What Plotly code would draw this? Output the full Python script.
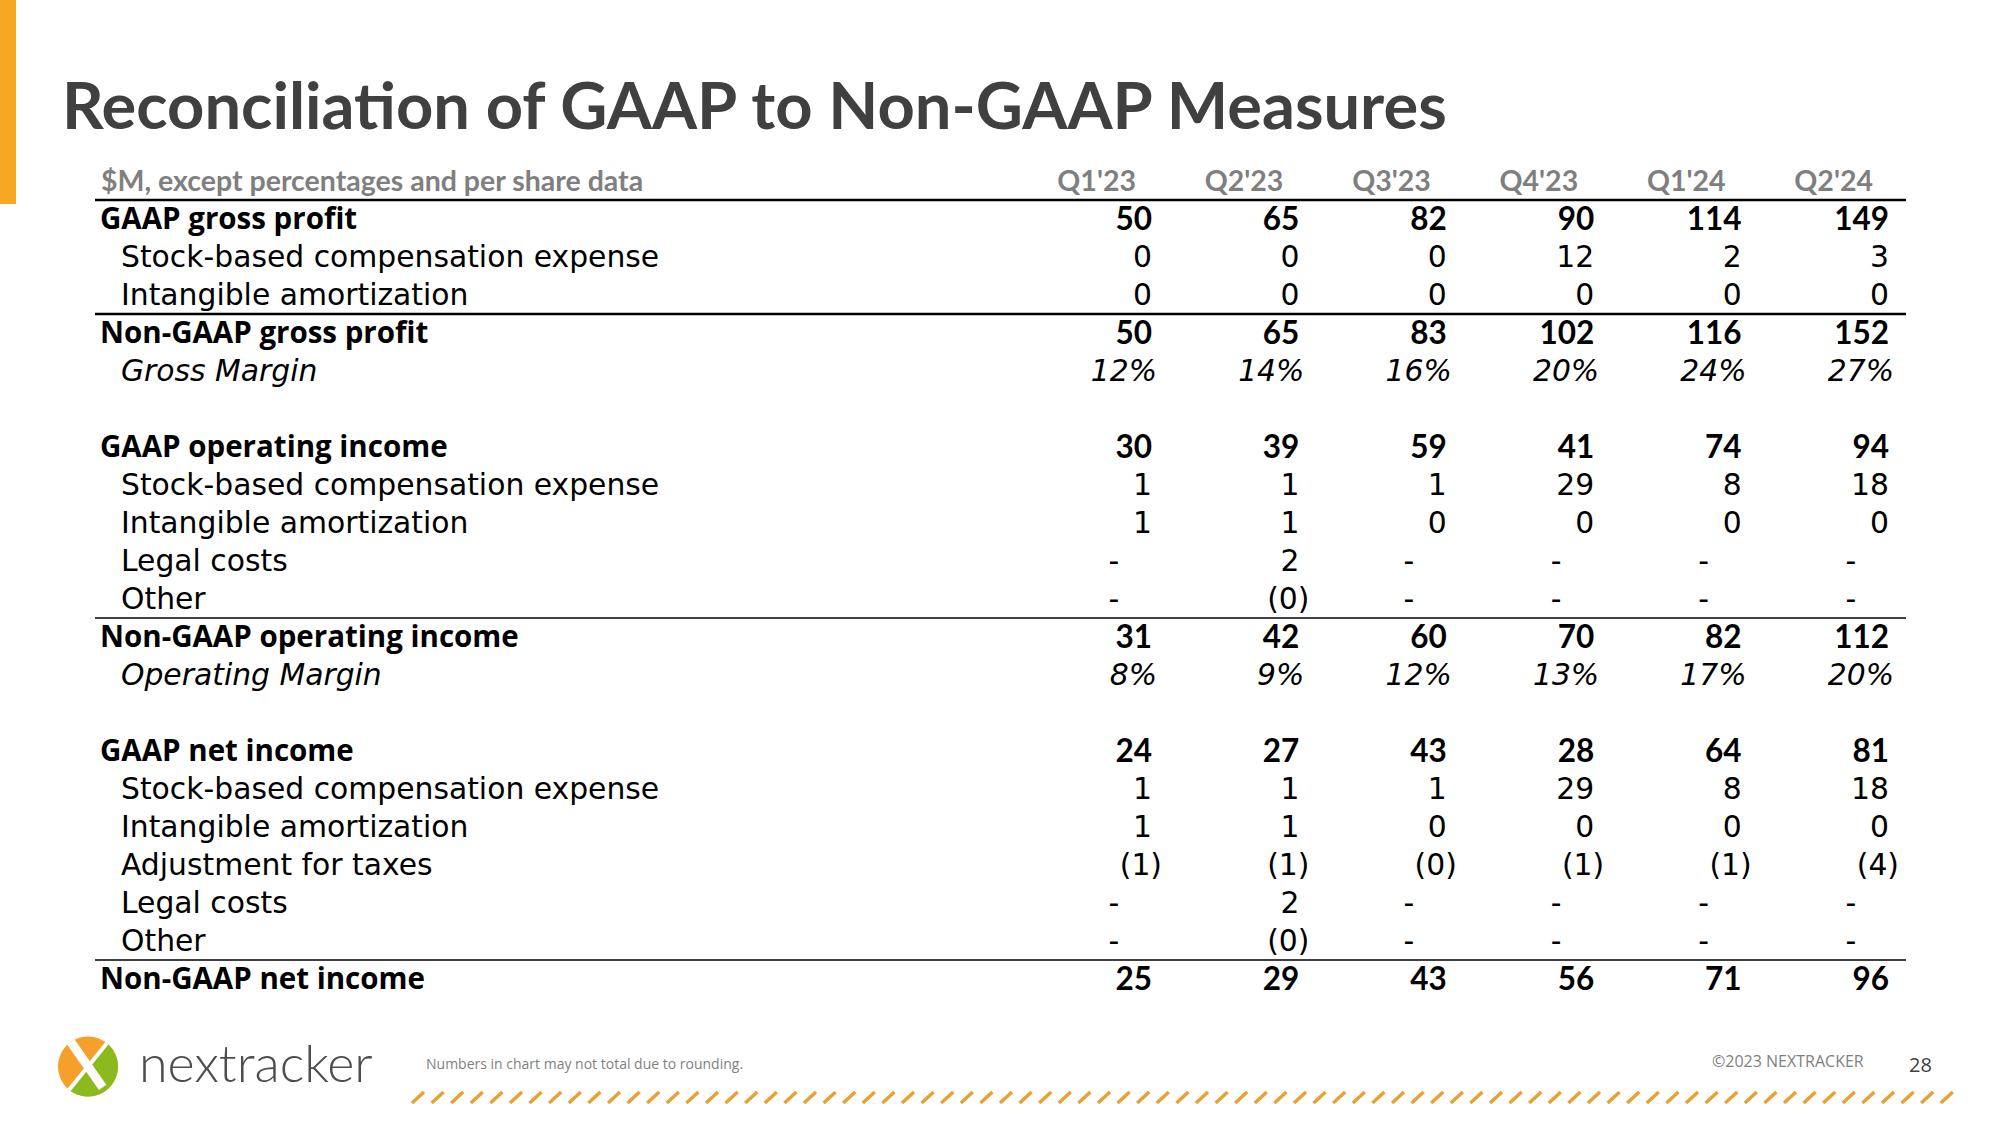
import math
import numpy as np
import plotly.graph_objects as go

# ---------------- data ----------------
quarters = ["Q1'23", "Q2'23", "Q3'23", "Q4'23", "Q1'24", "Q2'24"]
header_label = "$M, except percentages and per share data"

gaap_gross_profit = [50, 65, 82, 90, 114, 149]
gp_stock_comp = [0, 0, 0, 12, 2, 3]
gp_intangible = [0, 0, 0, 0, 0, 0]
nongaap_gross_profit = [50, 65, 83, 102, 116, 152]
gross_margin_pct = [12, 14, 16, 20, 24, 27]

gaap_operating_income = [30, 39, 59, 41, 74, 94]
oi_stock_comp = [1, 1, 1, 29, 8, 18]
oi_intangible = [1, 1, 0, 0, 0, 0]
oi_legal = [None, 2, None, None, None, None]
oi_other = [None, -0.0, None, None, None, None]
nongaap_operating_income = [31, 42, 60, 70, 82, 112]
operating_margin_pct = [8, 9, 12, 13, 17, 20]

gaap_net_income = [24, 27, 43, 28, 64, 81]
ni_stock_comp = [1, 1, 1, 29, 8, 18]
ni_intangible = [1, 1, 0, 0, 0, 0]
ni_tax_adj = [-1, -1, -0.0, -1, -1, -4]
ni_legal = [None, 2, None, None, None, None]
ni_other = [None, -0.0, None, None, None, None]
nongaap_net_income = [25, 29, 43, 56, 71, 96]

# (row slot, label, values, style, kind)
rows = [
    (1, "GAAP gross profit", gaap_gross_profit, "bold", "num"),
    (2, "Stock-based compensation expense", gp_stock_comp, "regular", "num"),
    (3, "Intangible amortization", gp_intangible, "regular", "num"),
    (4, "Non-GAAP gross profit", nongaap_gross_profit, "bold", "num"),
    (5, "Gross Margin", gross_margin_pct, "italic", "pct"),
    (7, "GAAP operating income", gaap_operating_income, "bold", "num"),
    (8, "Stock-based compensation expense", oi_stock_comp, "regular", "num"),
    (9, "Intangible amortization", oi_intangible, "regular", "num"),
    (10, "Legal costs", oi_legal, "regular", "num"),
    (11, "Other", oi_other, "regular", "num"),
    (12, "Non-GAAP operating income", nongaap_operating_income, "bold", "num"),
    (13, "Operating Margin", operating_margin_pct, "italic", "pct"),
    (15, "GAAP net income", gaap_net_income, "bold", "num"),
    (16, "Stock-based compensation expense", ni_stock_comp, "regular", "num"),
    (17, "Intangible amortization", ni_intangible, "regular", "num"),
    (18, "Adjustment for taxes", ni_tax_adj, "regular", "num"),
    (19, "Legal costs", ni_legal, "regular", "num"),
    (20, "Other", ni_other, "regular", "num"),
    (21, "Non-GAAP net income", nongaap_net_income, "bold", "num"),
]
rule_rows = [(0.5, 2.5), (3.5, 2.5), (11.5, 1.5), (20.5, 1.5)]

# ---------------- layout geometry ----------------
W, H = 2000, 1125
COL_RIGHT0, COL_PITCH = 1152.0, 147.4
ROW0, ROW_PITCH = 181.0, 38.0
TEXT_SHIFT = 3.0 / ROW_PITCH
x_lo = -COL_RIGHT0 / COL_PITCH
x_hi = x_lo + W / COL_PITCH
y_lo = -ROW0 / ROW_PITCH
y_hi = y_lo + H / ROW_PITCH


def dx(px):
    return px / COL_PITCH


def xpx(px):
    return (px - COL_RIGHT0) / COL_PITCH


FONT_BOLD = dict(family="Lato", size=31.5, color="#000000", weight=700)
FONT_BOLD_LABEL = dict(family="Open Sans", size=29.5, color="#000000", weight=700)
FONT_REG = dict(family="DejaVu Sans", size=29.8, color="#000000")
FONT_ITAL = dict(family="DejaVu Sans", size=29.8, color="#000000", style="italic")
FONT_HEAD = dict(family="Lato", size=28.5, color="#7F7F7F", weight=700)
style_font = {"bold": FONT_BOLD, "regular": FONT_REG, "italic": FONT_ITAL}
label_font = {"bold": FONT_BOLD_LABEL, "regular": FONT_REG, "italic": FONT_ITAL}

fig = go.Figure()


def add_text(xs, ys, texts, font, pos):
    if not xs:
        return
    fig.add_trace(go.Scatter(x=xs, y=[v + TEXT_SHIFT for v in ys], text=texts, mode="text",
                             textposition=pos, textfont=font,
                             hoverinfo="skip", showlegend=False,
                             cliponaxis=False))


# header row
add_text([xpx(101)], [0], [header_label], FONT_HEAD, "middle right")
add_text([i - dx(16) for i in range(len(quarters))], [0] * len(quarters),
         quarters, FONT_HEAD, "middle left")

# row labels
for style in ("bold", "regular", "italic"):
    xs, ys, ts = [], [], []
    for slot, label, vals, st, kind in rows:
        if st != style:
            continue
        xs.append(xpx(100 if st == "bold" else 121))
        ys.append(slot)
        ts.append(label)
    add_text(xs, ys, ts, label_font[style], "middle right")

# values
for style in ("bold", "regular", "italic"):
    rx, ry, rt = [], [], []
    cx, cy, ct = [], [], []
    for slot, label, vals, st, kind in rows:
        if st != style:
            continue
        for i, v in enumerate(vals):
            if v is None:
                cx.append(i - dx(38)); cy.append(slot); ct.append("-")
            elif kind == "pct":
                rx.append(i + dx(5)); ry.append(slot); rt.append(f"{v:.0f}%")
            elif math.copysign(1, v) < 0:
                rx.append(i + dx(10)); ry.append(slot); rt.append(f"({abs(v):.0f})")
            else:
                rx.append(i); ry.append(slot); rt.append(f"{v:.0f}")
    add_text(rx, ry, rt, style_font[style], "middle left")
    add_text(cx, cy, ct, style_font[style], "middle center")

shapes = []
for yv, w in rule_rows:
    shapes.append(dict(type="line", xref="paper", yref="y", x0=95 / W, x1=1906 / W,
                       y0=yv, y1=yv, line=dict(color="#000000", width=w)))

# orange side bar
shapes.append(dict(type="rect", xref="paper", yref="paper", x0=0, x1=16 / W,
                   y0=1 - 204 / H, y1=1, fillcolor="#F7A823", line=dict(width=0)))


def P(px, py):
    return px / W, 1 - py / H


# logo
cxp, cyp, r = 88.0, 1066.5, 30.0
shapes.append(dict(type="circle", xref="paper", yref="paper",
                   x0=(cxp - r) / W, x1=(cxp + r) / W, y0=1 - (cyp + r) / H, y1=1 - (cyp - r) / H,
                   fillcolor="#F5A02A", line=dict(width=0)))
ang = np.linspace(math.radians(-129), math.radians(51), 48)
pts = [(cxp + r * math.cos(a), cyp - r * math.sin(a)) for a in ang]
path = "M " + " L ".join(f"{px / W:.5f},{1 - py / H:.5f}" for px, py in pts) + " Z"
shapes.append(dict(type="path", xref="paper", yref="paper", path=path,
                   fillcolor="#8CBA1E", line=dict(width=0)))
for theta, w, f0, f1 in ((125, 9, 1.0, 0.85), (51, 4, 1.0, 1.0)):
    a = math.radians(theta)
    x0, y0 = cxp + f0 * r * math.cos(a), cyp - f0 * r * math.sin(a)
    x1, y1 = cxp - f1 * r * math.cos(a), cyp + f1 * r * math.sin(a)
    shapes.append(dict(type="line", xref="paper", yref="paper",
                       x0=x0 / W, y0=1 - y0 / H, x1=x1 / W, y1=1 - y1 / H,
                       line=dict(color="white", width=w)))

# decorative slash band
segs = []
for xs in np.arange(412, 1958, 19.6):
    a = P(xs, 1103)
    b = P(xs + 12, 1092)
    segs.append(f"M {a[0]:.5f},{a[1]:.5f} L {b[0]:.5f},{b[1]:.5f}")
shapes.append(dict(type="path", xref="paper", yref="paper", path=" ".join(segs),
                   line=dict(color="#E6A233", width=3.5)))

annotations = [
    dict(text="Reconciliation of GAAP to Non-GAAP Measures", x=60 / W, y=1 - 104 / H,
         xref="paper", yref="paper", xanchor="left", yanchor="middle", showarrow=False,
         font=dict(family="Lato", size=65, color="#404040", weight=700)),
    dict(text="nextracker", x=137 / W, y=1 - 1062 / H, xref="paper", yref="paper",
         xanchor="left", yanchor="middle", showarrow=False,
         font=dict(family="Lato", size=52, color="#4D4D4D", weight=300)),
    dict(text="Numbers in chart may not total due to rounding.", x=424 / W, y=1 - 1063 / H,
         xref="paper", yref="paper", xanchor="left", yanchor="middle", showarrow=False,
         font=dict(family="Open Sans", size=14, color="#7F7F7F")),
    dict(text="©2023 NEXTRACKER", x=1866 / W, y=1 - 1061 / H, xref="paper", yref="paper",
         xanchor="right", yanchor="middle", showarrow=False,
         font=dict(family="Open Sans", size=16, color="#7F7F7F")),
    dict(text="28", x=1934 / W, y=1 - 1064 / H, xref="paper", yref="paper",
         xanchor="right", yanchor="middle", showarrow=False,
         font=dict(family="Open Sans", size=20, color="#404040")),
]

fig.update_layout(
    width=W, height=H, margin=dict(l=0, r=0, t=0, b=0),
    paper_bgcolor="white", plot_bgcolor="white",
    xaxis=dict(range=[x_lo, x_hi], visible=False, domain=[0, 1], fixedrange=True),
    yaxis=dict(range=[y_hi, y_lo], visible=False, domain=[0, 1], fixedrange=True),
    shapes=shapes, annotations=annotations, showlegend=False,
)

fig.write_html("out.html", config={"displayModeBar": False},
               post_script="document.body.style.margin='0';document.body.style.overflow='hidden';")
